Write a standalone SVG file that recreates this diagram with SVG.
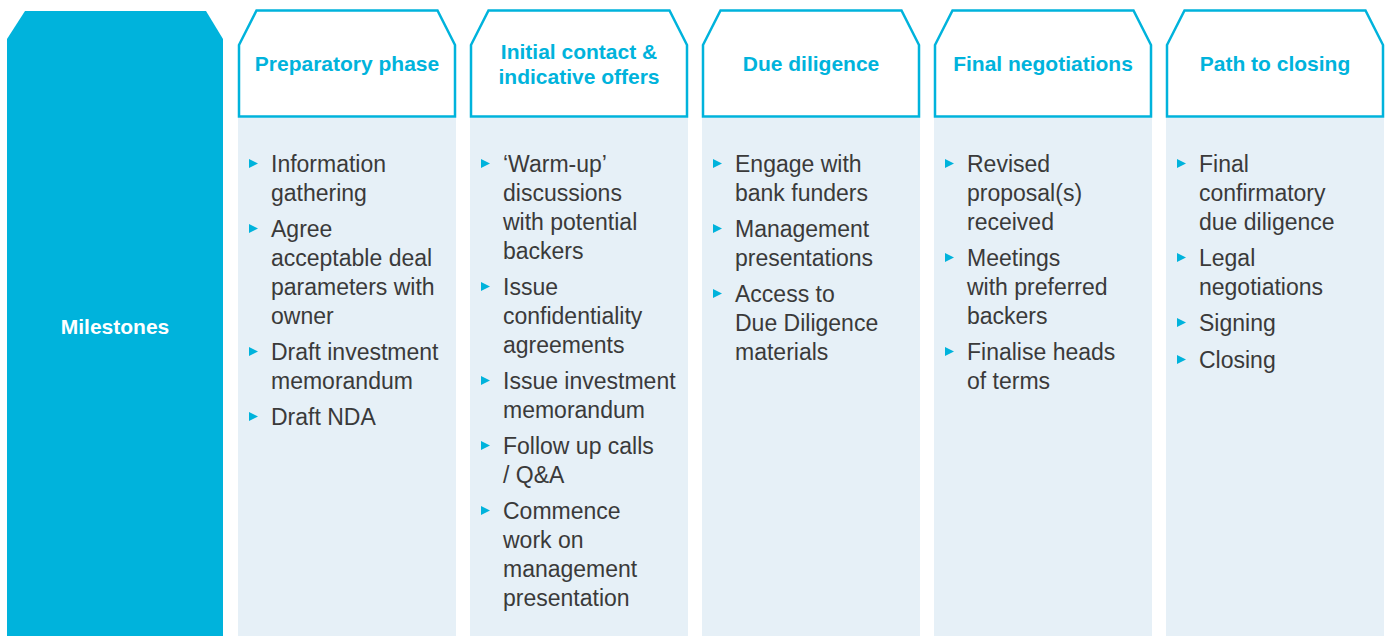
<svg xmlns="http://www.w3.org/2000/svg" width="1386" height="636" viewBox="0 0 1386 636">
  <defs>
    <style>
      .hdr { fill: #ffffff; stroke: #00b3dc; stroke-width: 2.5; stroke-linejoin: miter; }
      .body { fill: #e6f0f7; }
      .htxt { font-family: "Liberation Sans", Arial, sans-serif; font-weight: bold; font-size: 21px; fill: #00b3dc; text-anchor: middle; }
      .btxt { font-family: "Liberation Sans", Arial, sans-serif; font-size: 23px; fill: #3a3a3a; }
      .bul { fill: #00b3dc; }
      .ms { font-family: "Liberation Sans", Arial, sans-serif; font-weight: bold; font-size: 21px; fill: #ffffff; text-anchor: middle; }
    </style>
    <!-- column header frame: clipped top corners -->
    <path id="hdrShape" class="hdr" d="M1,116.5 V45 L18.5,10.5 H199.5 L217,45 V116.5 Z"/>
    <polygon id="bullet" class="bul" points="0,0 9,4.5 0,9"/>
  </defs>

  <rect width="1386" height="636" fill="#ffffff"/>

  <!-- row label -->
  <g id="milestones">
    <polygon points="7,39 25,11 206,11 223,39 223,636 7,636" fill="#00b3dc"/>
    <text class="ms" x="115" y="334">Milestones</text>
  </g>

  <!-- phase 1 -->
  <g id="preparatory-phase" transform="translate(238,0)">
    <rect class="body" x="0" y="118" width="218" height="518"/>
    <use href="#hdrShape"/>
    <text class="htxt" x="109" y="71">Preparatory phase</text>
    <use href="#bullet" x="11" y="159"/>
    <use href="#bullet" x="11" y="224"/>
    <use href="#bullet" x="11" y="347"/>
    <use href="#bullet" x="11" y="412"/>
    <text class="btxt" x="33" y="172">Information</text>
    <text class="btxt" x="33" y="201">gathering</text>
    <text class="btxt" x="33" y="237">Agree</text>
    <text class="btxt" x="33" y="266">acceptable deal</text>
    <text class="btxt" x="33" y="295">parameters with</text>
    <text class="btxt" x="33" y="324">owner</text>
    <text class="btxt" x="33" y="360">Draft investment</text>
    <text class="btxt" x="33" y="389">memorandum</text>
    <text class="btxt" x="33" y="425">Draft NDA</text>
  </g>

  <!-- phase 2 -->
  <g id="initial-contact" transform="translate(470,0)">
    <rect class="body" x="0" y="118" width="218" height="518"/>
    <use href="#hdrShape"/>
    <text class="htxt" x="109" y="59">Initial contact &amp;</text>
    <text class="htxt" x="109" y="84">indicative offers</text>
    <use href="#bullet" x="11" y="159"/>
    <use href="#bullet" x="11" y="282"/>
    <use href="#bullet" x="11" y="376"/>
    <use href="#bullet" x="11" y="441"/>
    <use href="#bullet" x="11" y="506"/>
    <text class="btxt" x="33" y="172">‘Warm-up’</text>
    <text class="btxt" x="33" y="201">discussions</text>
    <text class="btxt" x="33" y="230">with potential</text>
    <text class="btxt" x="33" y="259">backers</text>
    <text class="btxt" x="33" y="295">Issue</text>
    <text class="btxt" x="33" y="324">confidentiality</text>
    <text class="btxt" x="33" y="353">agreements</text>
    <text class="btxt" x="33" y="389">Issue investment</text>
    <text class="btxt" x="33" y="418">memorandum</text>
    <text class="btxt" x="33" y="454">Follow up calls</text>
    <text class="btxt" x="33" y="483">/ Q&amp;A</text>
    <text class="btxt" x="33" y="519">Commence</text>
    <text class="btxt" x="33" y="548">work on</text>
    <text class="btxt" x="33" y="577">management</text>
    <text class="btxt" x="33" y="606">presentation</text>
  </g>

  <!-- phase 3 -->
  <g id="due-diligence" transform="translate(702,0)">
    <rect class="body" x="0" y="118" width="218" height="518"/>
    <use href="#hdrShape"/>
    <text class="htxt" x="109" y="71">Due diligence</text>
    <use href="#bullet" x="11" y="159"/>
    <use href="#bullet" x="11" y="224"/>
    <use href="#bullet" x="11" y="289"/>
    <text class="btxt" x="33" y="172">Engage with</text>
    <text class="btxt" x="33" y="201">bank funders</text>
    <text class="btxt" x="33" y="237">Management</text>
    <text class="btxt" x="33" y="266">presentations</text>
    <text class="btxt" x="33" y="302">Access to</text>
    <text class="btxt" x="33" y="331">Due Diligence</text>
    <text class="btxt" x="33" y="360">materials</text>
  </g>

  <!-- phase 4 -->
  <g id="final-negotiations" transform="translate(934,0)">
    <rect class="body" x="0" y="118" width="218" height="518"/>
    <use href="#hdrShape"/>
    <text class="htxt" x="109" y="71">Final negotiations</text>
    <use href="#bullet" x="11" y="159"/>
    <use href="#bullet" x="11" y="253"/>
    <use href="#bullet" x="11" y="347"/>
    <text class="btxt" x="33" y="172">Revised</text>
    <text class="btxt" x="33" y="201">proposal(s)</text>
    <text class="btxt" x="33" y="230">received</text>
    <text class="btxt" x="33" y="266">Meetings</text>
    <text class="btxt" x="33" y="295">with preferred</text>
    <text class="btxt" x="33" y="324">backers</text>
    <text class="btxt" x="33" y="360">Finalise heads</text>
    <text class="btxt" x="33" y="389">of terms</text>
  </g>

  <!-- phase 5 -->
  <g id="path-to-closing" transform="translate(1166,0)">
    <rect class="body" x="0" y="118" width="218" height="518"/>
    <use href="#hdrShape"/>
    <text class="htxt" x="109" y="71">Path to closing</text>
    <use href="#bullet" x="11" y="159"/>
    <use href="#bullet" x="11" y="253"/>
    <use href="#bullet" x="11" y="318"/>
    <use href="#bullet" x="11" y="355"/>
    <text class="btxt" x="33" y="172">Final</text>
    <text class="btxt" x="33" y="201">confirmatory</text>
    <text class="btxt" x="33" y="230">due diligence</text>
    <text class="btxt" x="33" y="266">Legal</text>
    <text class="btxt" x="33" y="295">negotiations</text>
    <text class="btxt" x="33" y="331">Signing</text>
    <text class="btxt" x="33" y="368">Closing</text>
  </g>

  <!-- no connectors between the phase columns -->
  <g id="connectors"/>
</svg>
